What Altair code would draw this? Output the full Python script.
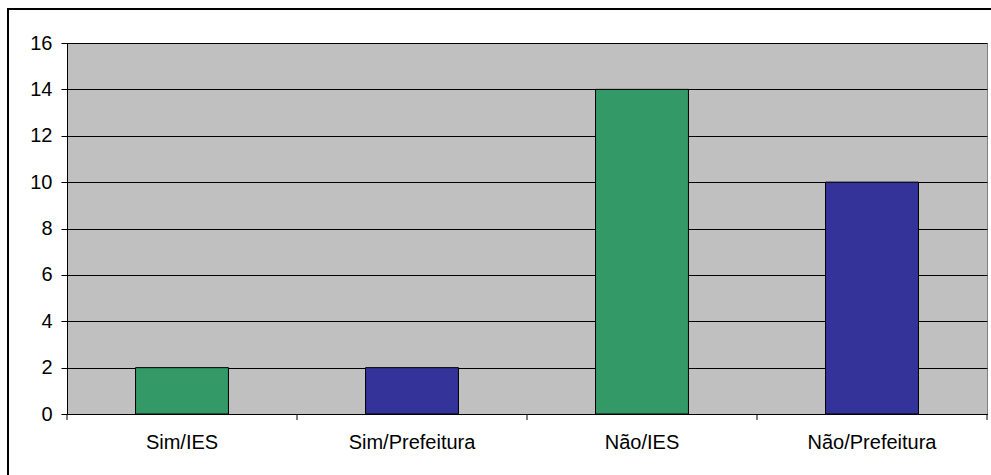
import altair as alt
import pandas as pd

categories = ["Sim/IES", "Sim/Prefeitura", "Não/IES", "Não/Prefeitura"]
values = [2, 2, 14, 10]
colors = ["#339966", "#333399", "#339966", "#333399"]
boundaries = [0, 1, 2, 3, 4]

df = pd.DataFrame({"cat": categories, "val": values, "color": colors})
df_ticks = pd.DataFrame({"b": boundaries})

FONT = "Liberation Sans"

bars = alt.Chart(df).mark_bar(stroke="black", strokeWidth=1).encode(
    x=alt.X("cat:N", sort=categories,
            scale=alt.Scale(paddingInner=0.596, paddingOuter=0.298),
            axis=alt.Axis(title=None, labelAngle=0, ticks=False,
                          domainColor="black",
                          labelFontSize=20, labelFont=FONT, labelColor="black",
                          labelPadding=18, grid=False)),
    y=alt.Y("val:Q", scale=alt.Scale(domain=[0, 16]),
            axis=alt.Axis(title=None, values=list(range(0, 17, 2)),
                          domainColor="black", tickColor="black", tickSize=6,
                          labelFontSize=20, labelFont=FONT, labelColor="black",
                          labelPadding=9, grid=True, gridColor="black",
                          gridWidth=1, gridOpacity=1)),
    color=alt.Color("color:N", scale=None),
)

ticks = alt.Chart(df_ticks).mark_rule(color="black", strokeWidth=1).encode(
    x=alt.X("b:Q", scale=alt.Scale(domain=[0, 4], nice=False, zero=False), axis=None),
    y=alt.value(371),
    y2=alt.value(377),
)

frame = alt.Chart(df).mark_rect(fill=None, stroke="black", strokeWidth=1.5).encode(
    x=alt.value(-59), x2=alt.value(940), y=alt.value(-34), y2=alt.value(450)
)

chart = alt.layer(bars, ticks, frame).resolve_scale(x="independent").properties(
    width=920, height=371,
    autosize=alt.AutoSizeParams(type="none"),
    padding={"left": 67, "top": 43, "right": 4, "bottom": 61},
    background="white",
).configure_view(fill="#C0C0C0", stroke="#808080", strokeWidth=1)

chart.save("out.html", embed_options={"renderer": "svg", "actions": False})
